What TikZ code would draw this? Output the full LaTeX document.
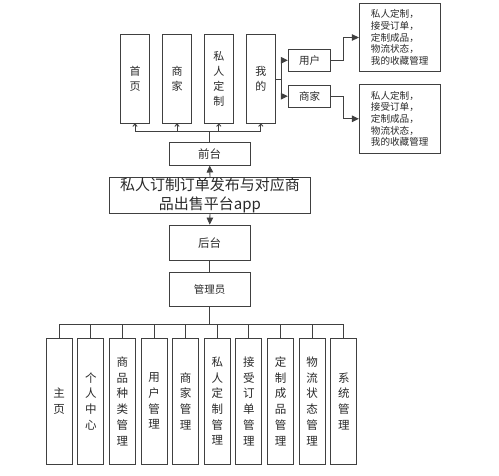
\documentclass[tikz,border=0pt]{standalone}
\usepackage{fontspec}
\setmainfont{Noto Sans CJK SC}
\usetikzlibrary{arrows.meta}
\definecolor{ln}{HTML}{404040}
\definecolor{tx}{HTML}{2A2A2A}
\begin{document}
\begin{tikzpicture}[x=1pt,y=1pt,
  box/.style={draw=ln,line width=0.9pt,text=tx,inner sep=0pt,align=center},
  topbox/.style={box,minimum width=28.5pt,minimum height=89pt,font=\fontsize{11}{15}\selectfont},
  botbox/.style={box,minimum width=26pt,minimum height=125.7pt,font=\fontsize{11.5}{15.7}\selectfont},
  midbox/.style={box,minimum width=80.7pt},
  sidebox/.style={box,minimum width=42.4pt,minimum height=22.5pt,font=\fontsize{10.5}{12}\selectfont},
  txtbox/.style={box,minimum width=80.7pt,minimum height=68.6pt,align=left,font=\fontsize{9.6}{11.6}\selectfont},
  conn/.style={draw=ln,line width=0.9pt},
  fa/.style={conn,-{Triangle[length=7pt,width=6.5pt]}},
  oa/.style={conn,-{To[length=3pt,width=5pt]}}
]
\useasboundingbox[fill=white] (0,0) rectangle (499,-475);
% top row
\node[topbox] (shouye) at (135,-78.7) {首\\页};
\node[topbox] (shangjia) at (177,-78.7) {商\\家};
\node[topbox] (srdz) at (218.8,-78.7) {私\\人\\定\\制};
\node[topbox] (wode) at (260.8,-78.7) {我\\的};
% middle column
\node[midbox,minimum height=22.3pt,font=\fontsize{11.5}{14}\selectfont] (qiantai) at (209.7,-153.9) {前台};
\node[box,minimum width=201.4pt,minimum height=36pt,font=\fontsize{15}{18.5}\selectfont] (app) at (210,-195.3) {私人订制订单发布与对应商\\品出售平台app};
\node[midbox,minimum height=35.7pt,font=\fontsize{11.5}{14}\selectfont] (houtai) at (209.7,-242.9) {后台};
\node[midbox,minimum height=34.4pt,font=\fontsize{10.5}{13}\selectfont] (gly) at (209.7,-289.5) {管理员};
% right side
\node[sidebox] (yonghu) at (309.5,-60.3) {用户};
\node[sidebox] (sjside) at (309.5,-96.2) {商家};
\node[txtbox] (tb1) at (399.7,-37.5) {私人定制，\\接受订单，\\定制成品，\\物流状态，\\我的收藏管理};
\node[txtbox] (tb2) at (399.7,-118.8) {私人定制，\\接受订单，\\定制成品，\\物流状态，\\我的收藏管理};
% bottom row
\foreach \i/\t in {0/主\\页,1/个\\人\\中\\心,2/商\\品\\种\\类\\管\\理,3/用\\户\\管\\理,4/商\\家\\管\\理,5/私\\人\\定\\制\\管\\理,6/接\\受\\订\\单\\管\\理,7/定\\制\\成\\品\\管\\理,8/物\\流\\状\\态\\管\\理,9/系\\统\\管\\理}{
  \node[botbox] (b\i) at ({59.2+31.62*\i},-401.2) {\t};
}
% connectors: front
\coordinate (busT) at (209.7,-131);
\draw[conn,line width=1.4pt] (qiantai.north) -- (busT);
\draw[conn] (shouye.south |- busT) -- (wode.south |- busT);
\foreach \n in {shouye,shangjia,srdz,wode}{
  \draw[oa] (\n.south |- busT) -- (\n.south);
}
\draw[fa] (app.north) -- (qiantai.south);
\draw[fa] (app.south) -- (houtai.north);
\draw[conn] (houtai.south) -- (gly.north);
% 我的 branch
\coordinate (jr) at (281,-79);
\draw[conn] (wode.east |- jr) -- (jr);
\draw[conn] (jr |- yonghu) -- (jr |- sjside);
\draw[fa] (jr |- yonghu) -- (yonghu.west);
\draw[fa] (jr |- sjside) -- (sjside.west);
\draw[fa] (yonghu.east) -- ++(12,0) |- (tb1.west);
\draw[fa] (sjside.east) -- ++(12,0) |- (tb2.west);
% back
\coordinate (busB) at (209.7,-324);
\draw[conn,line width=1.4pt] (gly.south) -- (busB);
\draw[conn] (b0.north |- busB) -- (b9.north |- busB);
\foreach \i in {0,...,9}{
  \draw[conn] (b\i.north |- busB) -- (b\i.north);
}
\end{tikzpicture}
\end{document}
